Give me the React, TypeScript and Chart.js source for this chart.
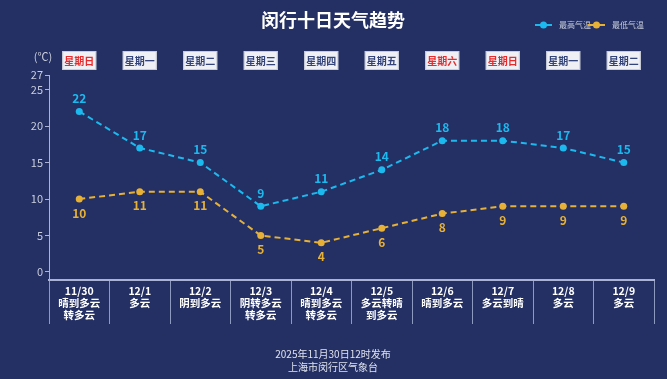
import React, { useEffect, useRef } from "react";
import { Chart, registerables } from "chart.js";

Chart.register(...registerables);

const dates = ["11/30", "12/1", "12/2", "12/3", "12/4", "12/5", "12/6", "12/7", "12/8", "12/9"];
const weather = [
  ["晴到多云", "转多云"],
  ["多云"],
  ["阴到多云"],
  ["阴转多云", "转多云"],
  ["晴到多云", "转多云"],
  ["多云转晴", "到多云"],
  ["晴到多云"],
  ["多云到晴"],
  ["多云"],
  ["多云"],
];
const weekdays = ["星期日", "星期一", "星期二", "星期三", "星期四", "星期五", "星期六", "星期日", "星期一", "星期二"];
const highTemps = [22, 17, 15, 9, 11, 14, 18, 18, 17, 15];
const lowTemps = [10, 11, 11, 5, 4, 6, 8, 9, 9, 9];
const yTicks = [0, 5, 10, 15, 20, 25, 27];

const TITLE = "闵行十日天气趋势";
const SERIES_HIGH = "最高气温";
const SERIES_LOW = "最低气温";
const UNIT = "(℃)";
const FOOT1 = "2025年11月30日12时发布";
const FOOT2 = "上海市闵行区气象台";

const BG = "#243063";
const CYAN = "#1cb9ef";
const YELLOW = "#e6b136";
const FONT = "'Noto Sans CJK SC', 'Noto Sans', sans-serif";

const decorPlugin = {
  id: "decor",
  beforeDraw(chart: any) {
    const ctx = chart.ctx;
    ctx.save();
    ctx.fillStyle = BG;
    ctx.fillRect(0, 0, chart.width, chart.height);
    ctx.restore();
  },
  afterDraw(chart: any) {
    const ctx = chart.ctx;
    const xs = chart.scales.x;
    ctx.save();
    // title
    ctx.fillStyle = "#ffffff";
    ctx.font = `bold 18px ${FONT}`;
    ctx.textAlign = "center";
    ctx.textBaseline = "middle";
    ctx.fillText(TITLE, 333, 20);

    // legend
    const leg = [
      { c: CYAN, t: SERIES_HIGH, x: 535 },
      { c: YELLOW, t: SERIES_LOW, x: 588 },
    ];
    ctx.font = `8px ${FONT}`;
    ctx.textAlign = "left";
    leg.forEach((l) => {
      ctx.strokeStyle = l.c;
      ctx.lineWidth = 2;
      ctx.beginPath();
      ctx.moveTo(l.x, 25);
      ctx.lineTo(l.x + 17, 25);
      ctx.stroke();
      ctx.fillStyle = l.c;
      ctx.beginPath();
      ctx.arc(l.x + 8.5, 25, 3.5, 0, Math.PI * 2);
      ctx.fill();
      ctx.fillStyle = "#c9cede";
      ctx.fillText(l.t, l.x + 24, 25);
    });

    // unit
    ctx.fillStyle = "#c9cede";
    ctx.font = `11px ${FONT}`;
    ctx.textAlign = "center";
    ctx.fillText(UNIT, 43, 57);

    // weekday boxes
    weekdays.forEach((w, i) => {
      const cx = xs.getPixelForValue(i);
      const bw = 34, bh = 19;
      ctx.fillStyle = "#eef0f6";
      ctx.fillRect(cx - bw / 2, 51, bw, bh);
      ctx.strokeStyle = "#c8ccd8";
      ctx.lineWidth = 1;
      ctx.strokeRect(cx - bw / 2 + 0.5, 51.5, bw - 1, bh - 1);
      ctx.fillStyle = w === "星期日" || w === "星期六" ? "#ea2a2a" : "#34447a";
      ctx.font = `bold 10px ${FONT}`;
      ctx.textAlign = "center";
      ctx.fillText(w, cx, 61);
    });

    // data labels
    const drawLabels = (di: number, vals: number[], color: string, dy: number) => {
      const meta = chart.getDatasetMeta(di);
      ctx.fillStyle = color;
      ctx.font = `bold 12px ${FONT}`;
      ctx.textAlign = "center";
      meta.data.forEach((p: any, i: number) => {
        ctx.fillText(String(vals[i]), p.x, p.y + dy);
      });
    };
    drawLabels(0, highTemps, CYAN, -13);
    drawLabels(1, lowTemps, YELLOW, 14);

    // footer
    ctx.fillStyle = "#dfe3ee";
    ctx.font = `10px ${FONT}`;
    ctx.textAlign = "center";
    ctx.fillText(FOOT1, 333, 354);
    ctx.fillText(FOOT2, 333, 367);
    ctx.restore();
  },
};

export default function App() {
  const ref = useRef<HTMLCanvasElement>(null);
  useEffect(() => {
    document.body.style.margin = "0";
    document.body.style.background = BG;
    const labels = dates.map((d, i) => [d, ...weather[i]]);
    const chart = new Chart(ref.current as HTMLCanvasElement, {
      type: "line",
      data: {
        labels,
        datasets: [
          {
            label: SERIES_HIGH,
            data: highTemps,
            borderColor: CYAN,
            backgroundColor: CYAN,
            borderWidth: 2,
            borderDash: [6, 4],
            pointRadius: 3.5,
            pointBorderWidth: 0,
            pointBackgroundColor: CYAN,
            tension: 0,
          },
          {
            label: SERIES_LOW,
            data: lowTemps,
            borderColor: YELLOW,
            backgroundColor: YELLOW,
            borderWidth: 2,
            borderDash: [6, 4],
            pointRadius: 3.5,
            pointBorderWidth: 0,
            pointBackgroundColor: YELLOW,
            tension: 0,
          },
        ],
      },
      options: {
        responsive: false,
        animation: false,
        layout: { padding: { top: 75, left: 0, right: 13, bottom: 0 } },
        plugins: {
          legend: { display: false },
          title: { display: false },
          tooltip: { enabled: false },
        },
        scales: {
          x: {
            type: "category",
            offset: true,
            afterFit(s: any) {
              s.height = 99;
            },
            grid: {
              offset: true,
              drawOnChartArea: false,
              drawTicks: true,
              tickLength: 44,
              color: "#8e99c0",
              lineWidth: 1,
            },
            border: { display: true, color: "#aab3d3", width: 2 },
            ticks: {
              color: "#ffffff",
              font: { family: FONT, size: 10.5, weight: "bold", lineHeight: 1.15 },
              padding: -39,
              maxRotation: 0,
              autoSkip: false,
            },
          },
          y: {
            min: -1.1,
            max: 27,
            afterFit(s: any) {
              s.width = 49;
            },
            afterBuildTicks(s: any) {
              s.ticks = yTicks.map((v) => ({ value: v }));
            },
            grid: {
              drawOnChartArea: false,
              drawTicks: true,
              tickLength: 4,
              color: "#aab3d3",
            },
            border: { display: true, color: "#aab3d3", width: 1 },
            ticks: {
              color: "#c9cede",
              font: { family: FONT, size: 11 },
              padding: 2,
            },
          },
        },
      },
      plugins: [decorPlugin],
    } as any);
    return () => chart.destroy();
  }, []);
  return (
    <div style={{ width: 667, height: 379, background: BG }}>
      <canvas ref={ref} width={667} height={379} style={{ display: "block" }} />
    </div>
  );
}
